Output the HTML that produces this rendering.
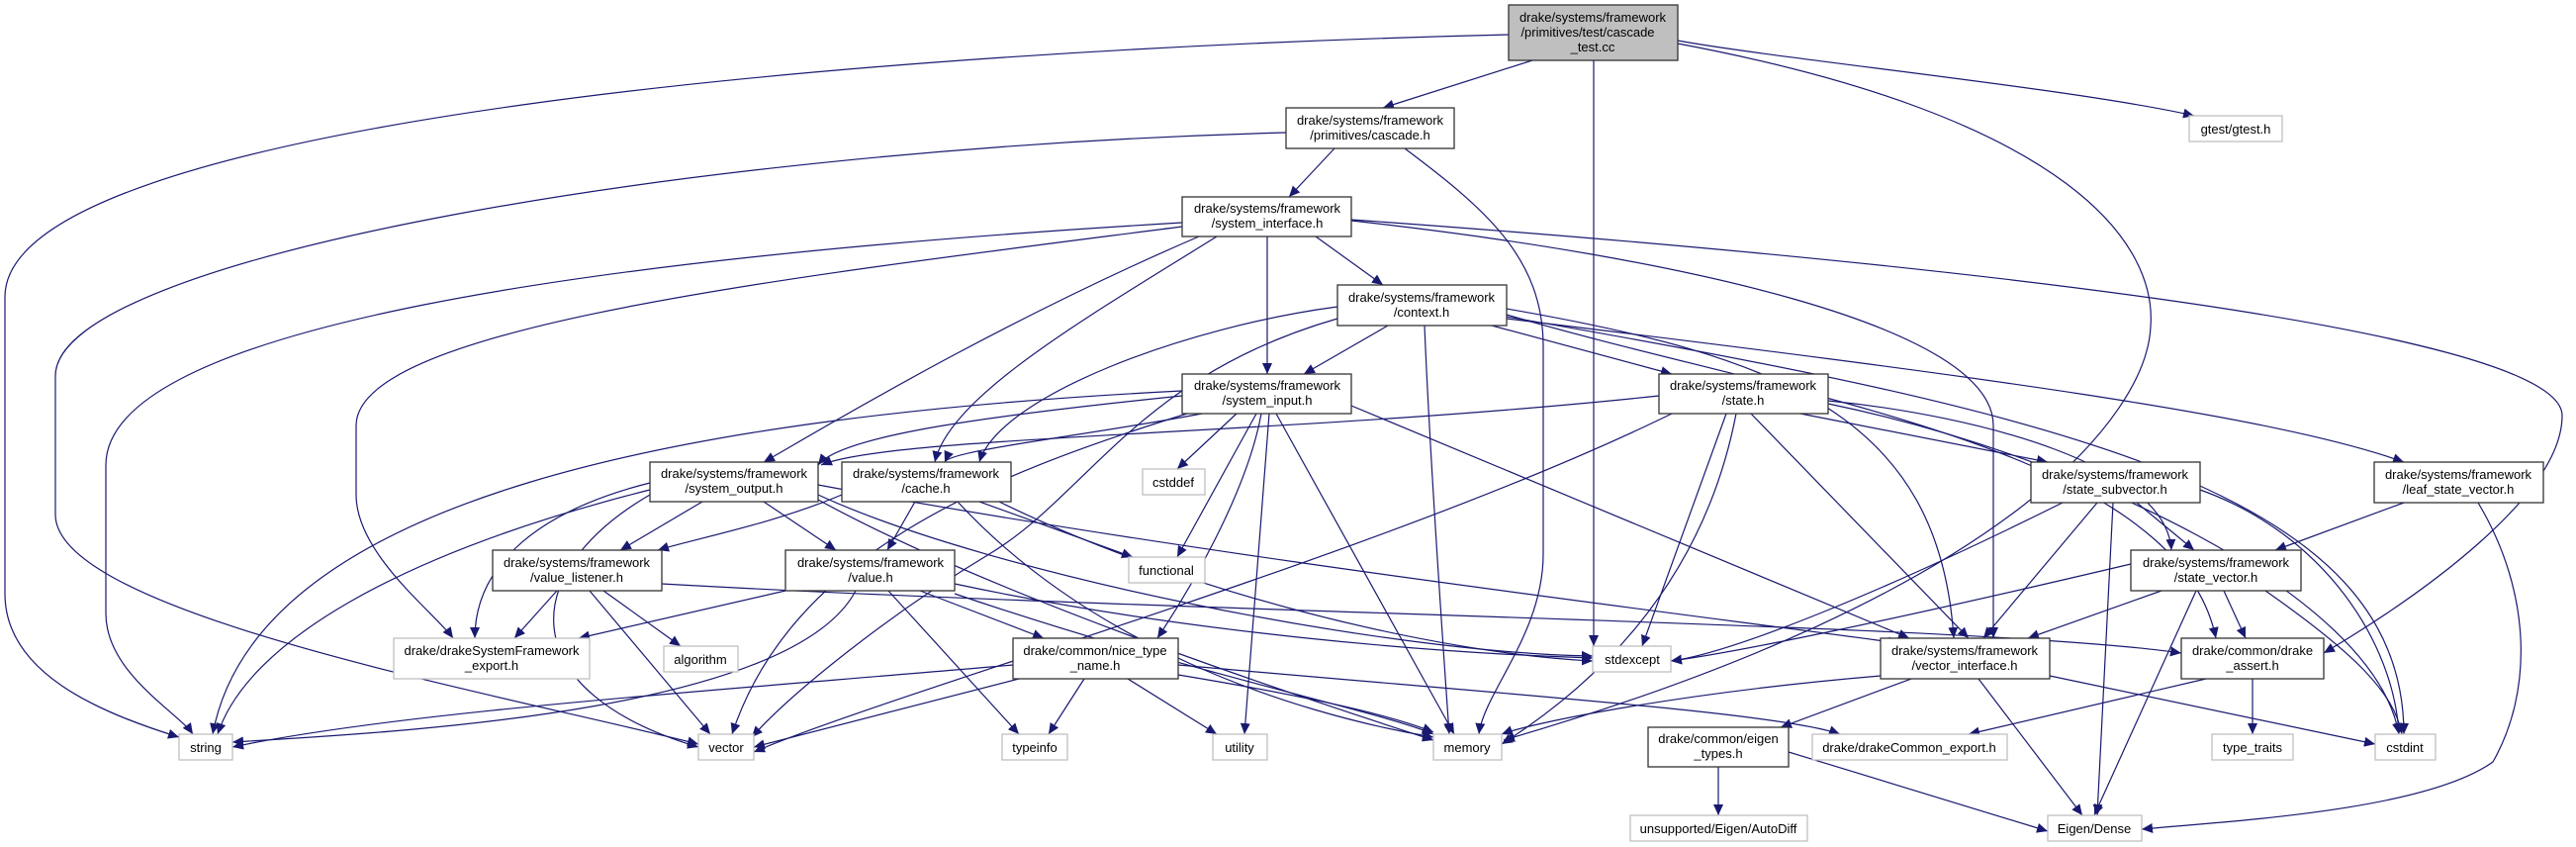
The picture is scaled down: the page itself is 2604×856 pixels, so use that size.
<!DOCTYPE html>
<html><head><meta charset="utf-8"><style>
html,body{margin:0;padding:0;background:#fff;}
svg{display:block;}
text{font-family:"Liberation Sans",sans-serif;font-size:13px;fill:#000;text-anchor:middle;}
.n{fill:#fff;stroke:#333;stroke-width:1.3;}
.g{fill:#fff;stroke:#bfbfbf;stroke-width:1.3;}
.e{fill:none;stroke:#191970;stroke-width:1.2;marker-end:url(#a);}
</style></head><body>
<svg width="2604" height="856" viewBox="0 0 2604 856" xmlns="http://www.w3.org/2000/svg">
<defs><marker id="a" markerUnits="userSpaceOnUse" markerWidth="12" markerHeight="10" refX="11" refY="5" orient="auto"><path d="M0,0 L11,5 L0,10 Z" fill="#191970"/></marker></defs>
<g>
<path class="e" d="M1549,61 L1398,109"/>
<path class="e" d="M1696,41 C1800,60 2100,90 2218,117"/>
<path class="e" d="M1611,61 L1611,653"/>
<path class="e" d="M1696,44 C2100,120 2180,250 2174,330 C2170,420 2030,600 1520,748"/>
<path class="e" d="M1525,35 C900,50 5,120 5,300 L5,600 C5,680 100,720 181,745"/>
<path class="e" d="M1349,150 L1303,199"/>
<path class="e" d="M1300,134 C700,150 56,260 56,380 L56,520 C56,620 500,700 706,752"/>
<path class="e" d="M1420,150 C1500,210 1560,260 1560,350 L1560,560 C1560,640 1500,700 1495,742"/>
<path class="e" d="M1330,239 L1398,288"/>
<path class="e" d="M1281,239 L1281,378"/>
<path class="e" d="M1195,225 C600,260 107,330 107,470 L107,620 C107,680 180,720 195,742"/>
<path class="e" d="M1195,229 C800,280 360,330 360,430 L360,500 C360,560 440,620 458,645"/>
<path class="e" d="M1212,239 C1000,330 820,440 772,467"/>
<path class="e" d="M1230,239 C1100,320 960,400 945,467"/>
<path class="e" d="M1366,223 C1700,260 2015,330 2015,430 L2015,645"/>
<path class="e" d="M1366,222 C1900,260 2590,330 2590,420 C2590,500 2450,600 2349,660"/>
<path class="e" d="M1403,329 L1318,378"/>
<path class="e" d="M1508,329 L1690,378"/>
<path class="e" d="M1440,329 C1445,450 1455,600 1465,742"/>
<path class="e" d="M1352,310 C1200,330 1010,400 990,467"/>
<path class="e" d="M1352,322 C1150,380 1100,500 1000,560 C900,620 800,700 760,745"/>
<path class="e" d="M1523,312 C1800,360 1960,420 1975,645"/>
<path class="e" d="M1523,318 C1800,400 2200,450 2240,645"/>
<path class="e" d="M1523,322 C2000,380 2300,420 2430,467"/>
<path class="e" d="M1523,320 C2100,420 2430,500 2430,742"/>
<path class="e" d="M1195,400 C1000,420 850,440 827,470"/>
<path class="e" d="M1215,418 C1100,440 960,455 955,467"/>
<path class="e" d="M1250,418 L1190,474"/>
<path class="e" d="M1270,418 L1190,563"/>
<path class="e" d="M1195,395 C700,420 260,500 215,742"/>
<path class="e" d="M1200,418 C1000,480 800,560 740,742"/>
<path class="e" d="M1290,418 L1470,742"/>
<path class="e" d="M1283,418 L1258,742"/>
<path class="e" d="M1275,418 C1260,500 1200,600 1170,645"/>
<path class="e" d="M1366,410 L1930,645"/>
<path class="e" d="M1690,418 C1400,560 900,700 762,760"/>
<path class="e" d="M1820,418 L2070,467"/>
<path class="e" d="M1848,405 C2000,420 2190,470 2195,556"/>
<path class="e" d="M1770,418 L1990,645"/>
<path class="e" d="M1745,418 L1660,653"/>
<path class="e" d="M1755,418 C1720,600 1600,700 1518,752"/>
<path class="e" d="M1848,408 C2100,460 2400,600 2425,742"/>
<path class="e" d="M1677,400 C1300,440 900,440 830,470"/>
<path class="e" d="M710,507 L627,556"/>
<path class="e" d="M772,507 L845,556"/>
<path class="e" d="M657,488 C530,520 480,580 480,645"/>
<path class="e" d="M657,495 C400,560 250,650 220,742"/>
<path class="e" d="M657,500 C520,580 520,700 706,755"/>
<path class="e" d="M827,490 C1200,560 1700,620 1920,650"/>
<path class="e" d="M827,500 C1000,580 1400,660 1610,663"/>
<path class="e" d="M827,505 C1000,600 1300,700 1449,748"/>
<path class="e" d="M851,500 C780,530 700,545 665,556"/>
<path class="e" d="M925,507 L897,556"/>
<path class="e" d="M990,507 L1145,563"/>
<path class="e" d="M968,507 C1100,650 1300,720 1449,745"/>
<path class="e" d="M1010,507 C1200,600 1450,660 1610,668"/>
<path class="e" d="M563,597 L520,645"/>
<path class="e" d="M610,597 L688,653"/>
<path class="e" d="M596,597 L718,742"/>
<path class="e" d="M669,590 C1200,620 2000,630 2205,660"/>
<path class="e" d="M794,597 L585,645"/>
<path class="e" d="M930,597 L1055,645"/>
<path class="e" d="M898,597 L1030,742"/>
<path class="e" d="M865,597 C800,720 400,740 235,750"/>
<path class="e" d="M965,590 C1200,640 1450,660 1610,665"/>
<path class="e" d="M965,600 C1200,680 1400,720 1449,742"/>
<path class="e" d="M1024,672 C700,700 400,720 235,755"/>
<path class="e" d="M1030,686 L762,755"/>
<path class="e" d="M1096,686 L1060,742"/>
<path class="e" d="M1140,686 L1230,742"/>
<path class="e" d="M1191,682 C1300,700 1400,720 1449,740"/>
<path class="e" d="M1191,672 C1500,700 1800,720 1860,742"/>
<path class="e" d="M2085,508 C1900,600 1750,660 1689,668"/>
<path class="e" d="M2120,508 L2005,645"/>
<path class="e" d="M2160,508 L2218,556"/>
<path class="e" d="M2136,508 L2120,824"/>
<path class="e" d="M2224,495 C2350,540 2420,650 2425,742"/>
<path class="e" d="M2430,508 L2300,556"/>
<path class="e" d="M2505,508 C2560,600 2560,700 2520,770 C2450,820 2250,830 2165,838"/>
<path class="e" d="M2154,570 C1900,630 1750,660 1689,668"/>
<path class="e" d="M2185,597 L2050,645"/>
<path class="e" d="M2248,597 L2270,645"/>
<path class="e" d="M2220,597 L2117,824"/>
<path class="e" d="M2290,597 C2380,660 2420,700 2428,742"/>
<path class="e" d="M1901,683 C1700,700 1550,730 1518,742"/>
<path class="e" d="M1932,686 L1800,735"/>
<path class="e" d="M2000,686 L2105,824"/>
<path class="e" d="M2072,683 L2401,752"/>
<path class="e" d="M2230,686 L1990,742"/>
<path class="e" d="M2277,686 L2277,742"/>
<path class="e" d="M1737,775 L1737,824"/>
<path class="e" d="M1808,760 L2070,840"/>
</g>
<g>
<rect x="1525" y="5" width="171" height="56" style="fill:#bfbfbf;stroke:#333;stroke-width:1.3"/>
<text x="1610" y="22">drake/systems/framework</text><text x="1605" y="37">/primitives/test/cascade</text><text x="1610" y="52">_test.cc</text>

<rect class="g" x="2213" y="117" width="94" height="26"/><text x="2260" y="135">gtest/gtest.h</text>

<rect class="n" x="1300" y="109" width="170" height="41"/><text x="1385" y="126">drake/systems/framework</text><text x="1385" y="141">/primitives/cascade.h</text>
<rect class="n" x="1195" y="199" width="171" height="40"/><text x="1281" y="215">drake/systems/framework</text><text x="1281" y="230">/system_interface.h</text>
<rect class="n" x="1352" y="288" width="171" height="41"/><text x="1437" y="305">drake/systems/framework</text><text x="1437" y="320">/context.h</text>
<rect class="n" x="1195" y="378" width="171" height="40"/><text x="1281" y="394">drake/systems/framework</text><text x="1281" y="409">/system_input.h</text>
<rect class="n" x="1677" y="378" width="171" height="40"/><text x="1762" y="394">drake/systems/framework</text><text x="1762" y="409">/state.h</text>
<rect class="n" x="657" y="467" width="170" height="40"/><text x="742" y="483">drake/systems/framework</text><text x="742" y="498">/system_output.h</text>
<rect class="n" x="851" y="467" width="171" height="40"/><text x="936" y="483">drake/systems/framework</text><text x="936" y="498">/cache.h</text>
<rect class="g" x="1155" y="474" width="63" height="26"/><text x="1186" y="492">cstddef</text>
<rect class="n" x="2053" y="467" width="171" height="41"/><text x="2138" y="484">drake/systems/framework</text><text x="2138" y="499">/state_subvector.h</text>
<rect class="n" x="2400" y="467" width="171" height="41"/><text x="2485" y="484">drake/systems/framework</text><text x="2485" y="499">/leaf_state_vector.h</text>
<rect class="n" x="498" y="556" width="171" height="41"/><text x="583" y="573">drake/systems/framework</text><text x="583" y="588">/value_listener.h</text>
<rect class="n" x="794" y="556" width="171" height="41"/><text x="880" y="573">drake/systems/framework</text><text x="880" y="588">/value.h</text>
<rect class="g" x="1141" y="563" width="77" height="26"/><text x="1179" y="581">functional</text>
<rect class="n" x="2154" y="556" width="172" height="41"/><text x="2240" y="573">drake/systems/framework</text><text x="2240" y="588">/state_vector.h</text>
<rect class="g" x="398" y="645" width="198" height="41"/><text x="497" y="662">drake/drakeSystemFramework</text><text x="497" y="677">_export.h</text>
<rect class="g" x="671" y="653" width="75" height="26"/><text x="708" y="671">algorithm</text>
<rect class="n" x="1024" y="645" width="167" height="41"/><text x="1107" y="662">drake/common/nice_type</text><text x="1107" y="677">_name.h</text>
<rect class="g" x="1610" y="653" width="79" height="26"/><text x="1650" y="671">stdexcept</text>
<rect class="n" x="1901" y="645" width="171" height="41"/><text x="1986" y="662">drake/systems/framework</text><text x="1986" y="677">/vector_interface.h</text>
<rect class="n" x="2205" y="645" width="144" height="41"/><text x="2277" y="662">drake/common/drake</text><text x="2277" y="677">_assert.h</text>
<rect class="g" x="181" y="742" width="54" height="26"/><text x="208" y="760">string</text>
<rect class="g" x="706" y="742" width="56" height="26"/><text x="734" y="760">vector</text>
<rect class="g" x="1013" y="742" width="66" height="26"/><text x="1046" y="760">typeinfo</text>
<rect class="g" x="1226" y="742" width="55" height="26"/><text x="1253" y="760">utility</text>
<rect class="g" x="1449" y="742" width="69" height="26"/><text x="1483" y="760">memory</text>
<rect class="n" x="1666" y="735" width="142" height="40"/><text x="1737" y="751">drake/common/eigen</text><text x="1737" y="766">_types.h</text>
<rect class="g" x="1832" y="742" width="197" height="26"/><text x="1930" y="760">drake/drakeCommon_export.h</text>
<rect class="g" x="2236" y="742" width="82" height="26"/><text x="2277" y="760">type_traits</text>
<rect class="g" x="2401" y="742" width="61" height="26"/><text x="2431" y="760">cstdint</text>
<rect class="g" x="1648" y="824" width="179" height="26"/><text x="1737" y="842">unsupported/Eigen/AutoDiff</text>
<rect class="g" x="2070" y="824" width="95" height="26"/><text x="2117" y="842">Eigen/Dense</text>
</g>
</svg>
</body></html>
